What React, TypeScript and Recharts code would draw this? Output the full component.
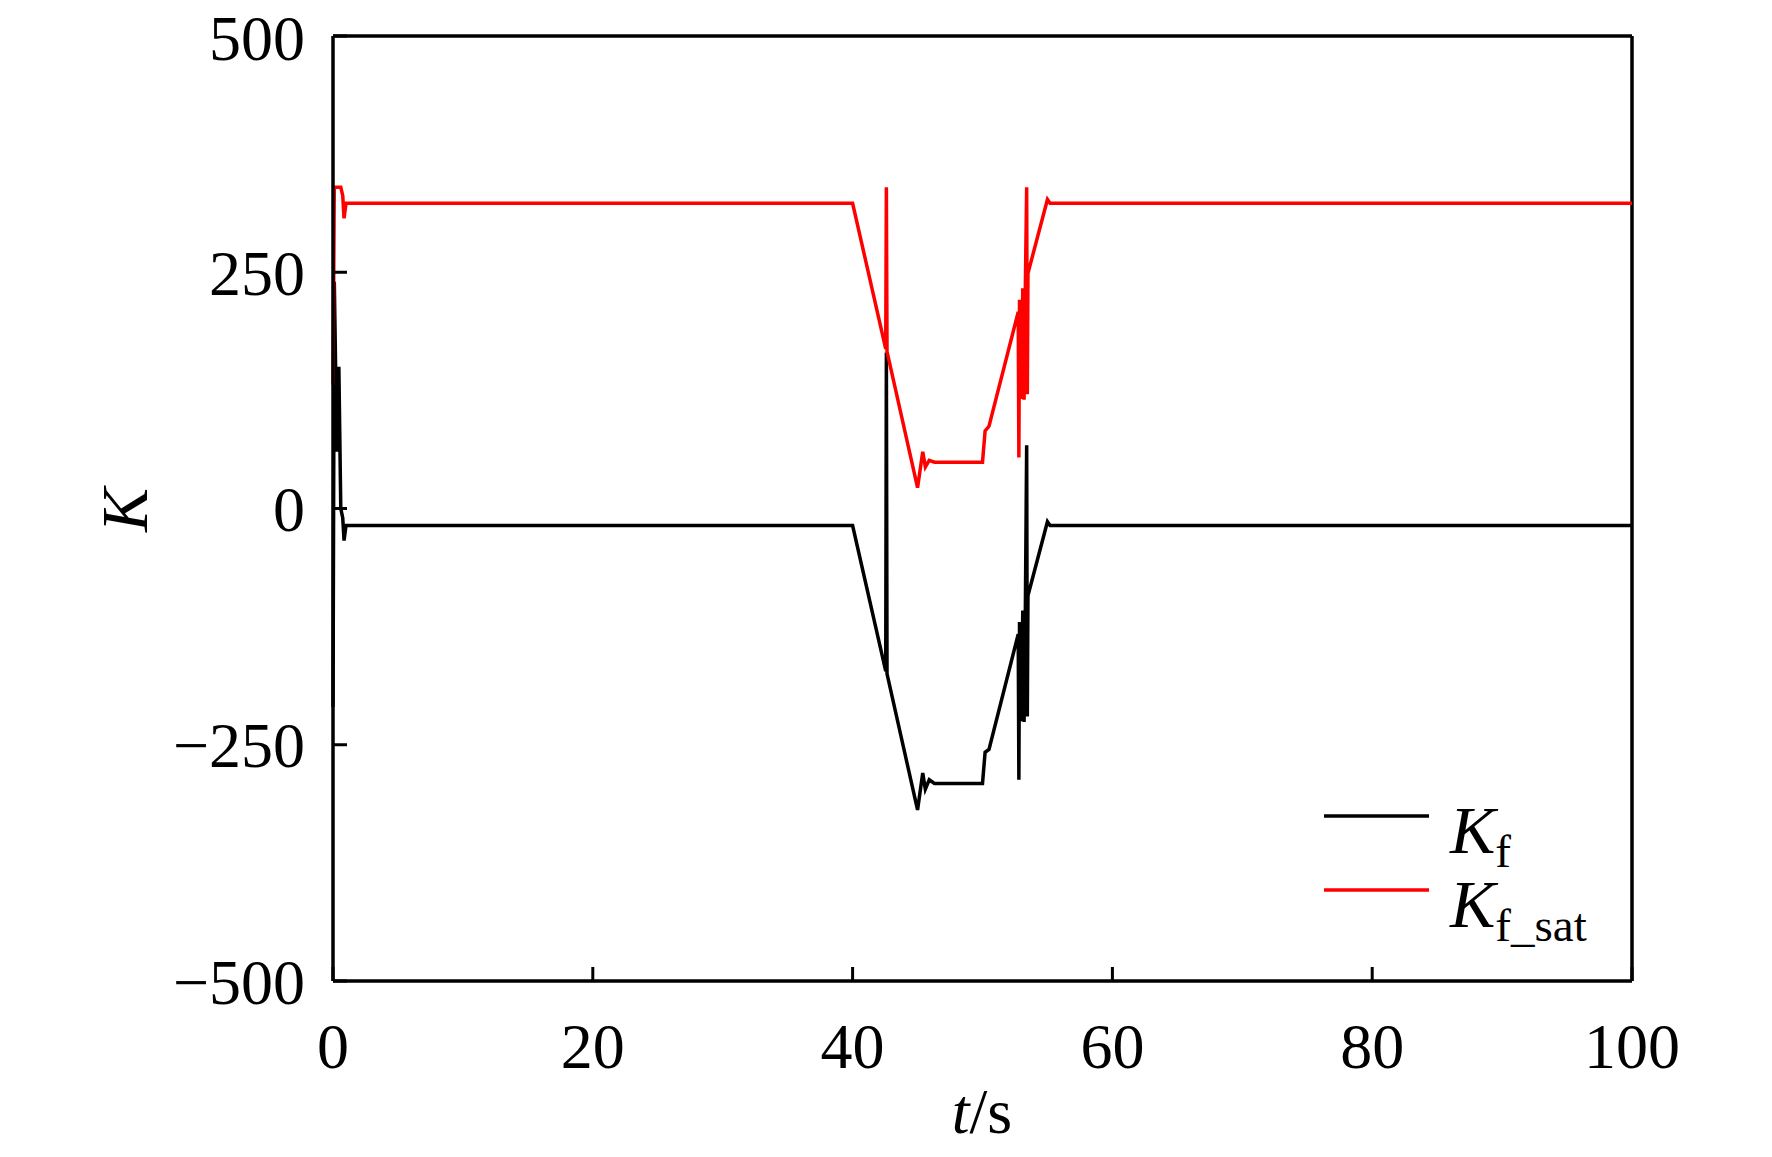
import React from "react";
import {
  Customized,
  Line,
  LineChart,
  ReferenceLine,
  XAxis,
  YAxis,
} from "recharts";

const FONT = "Liberation Serif, Times New Roman, serif";

// time in seconds
const time = [
  0, 0.1, 0.3, 0.45, 0.6, 0.75, 0.85, 1.0, 40.0, 42.55, 42.6, 42.65, 45.0,
  45.4, 45.6, 45.9, 46.3, 50.0, 50.2, 50.5, 52.75, 52.8, 52.85, 53.0, 53.1,
  53.2, 53.3, 53.4, 53.45, 53.5, 55.0, 55.2, 100,
];

const kf = [
  -210, 240, 60, 150, 0, -10, -34, -18, -18, -172, 165, -175, -319, -280,
  -297, -287, -291, -291, -258, -255, -133, -287, -120, -225, -108, -226,
  -105, 67, -220, -92, -14, -18, -18,
];

const kfSat = [
  131, 340, 340, 340, 340, 331, 307, 323, 323, 169, 340, 166, 22, 60, 44, 51,
  49, 49, 82, 87, 208, 54, 221, 116, 233, 115, 236, 340, 121, 249, 327, 323,
  323,
];

const xTicks = [0, 20, 40, 60, 80, 100];
const yTicks = [-500, -250, 0, 250, 500];

const data = time.map((t, i) => ({ t, kf: kf[i], kfSat: kfSat[i] }));

const minus = (v: number) => String(v).replace("-", "\u2212");

const Overlay = () => (
  <g fontFamily={FONT} fill="#000">
    <text
      x={147}
      y={510}
      fontSize={66}
      fontStyle="italic"
      textAnchor="middle"
      transform="rotate(-90, 147, 510)"
    >
      K
    </text>
    <text x={982} y={1133} fontSize={64} textAnchor="middle">
      <tspan fontStyle="italic">t</tspan>/s
    </text>

    <line x1={1324} x2={1429} y1={816} y2={816} stroke="#000" strokeWidth={3.5} />
    <text x={1450} y={853} fontSize={68}>
      <tspan fontStyle="italic">K</tspan>
      <tspan fontSize={47} dy={14}>
        f
      </tspan>
    </text>

    <line x1={1324} x2={1429} y1={890} y2={890} stroke="#ff0000" strokeWidth={3.5} />
    <text x={1450} y={927} fontSize={68}>
      <tspan fontStyle="italic">K</tspan>
      <tspan fontSize={47} dy={14}>
        f_sat
      </tspan>
    </text>
  </g>
);

export default function App() {
  return (
    <div style={{ position: "absolute", left: 0, top: 0, background: "#fff" }}>
      <LineChart
        width={1772}
        height={1157}
        data={data}
        margin={{ top: 36, right: 140, left: 233, bottom: 116 }}
      >
        <XAxis
          dataKey="t"
          type="number"
          domain={[0, 100]}
          ticks={xTicks}
          height={60}
          axisLine={{ stroke: "#000", strokeWidth: 3.5 }}
          tickLine={{ stroke: "#000", strokeWidth: 3 }}
          tickSize={-14}
          tickMargin={56}
          tick={{ fill: "#000", fontSize: 64, fontFamily: FONT }}
        />
        <YAxis
          type="number"
          domain={[-500, 500]}
          ticks={yTicks}
          width={100}
          axisLine={{ stroke: "#000", strokeWidth: 3.5 }}
          tickLine={{ stroke: "#000", strokeWidth: 3 }}
          tickSize={-14}
          tickMargin={42}
          tickFormatter={minus}
          tick={{ fill: "#000", fontSize: 64, fontFamily: FONT }}
        />
        <ReferenceLine y={500} stroke="#000" strokeWidth={3.5} />
        <ReferenceLine x={100} stroke="#000" strokeWidth={3.5} />
        <Line
          type="linear"
          dataKey="kf"
          stroke="#000"
          strokeWidth={3.5}
          dot={false}
          isAnimationActive={false}
        />
        <Line
          type="linear"
          dataKey="kfSat"
          stroke="#ff0000"
          strokeWidth={3.5}
          dot={false}
          isAnimationActive={false}
        />
        <Customized component={Overlay} />
      </LineChart>
    </div>
  );
}
